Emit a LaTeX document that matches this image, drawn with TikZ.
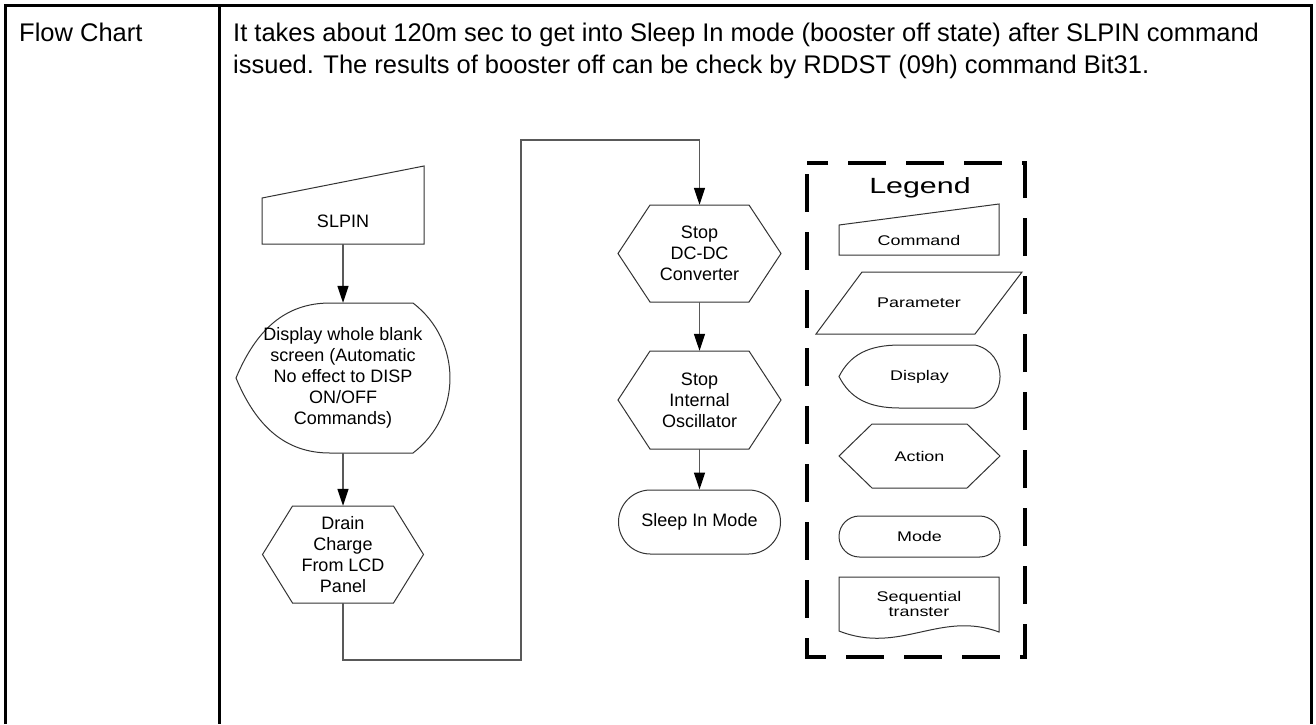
\documentclass[tikz,border=0pt]{standalone}
\usepackage{fontspec}
\setmainfont{Liberation Sans}
\newfontfamily\legfont[FakeStretch=1.28]{Liberation Sans}
\newfontfamily\legtitlefont[FakeStretch=1.38]{Liberation Sans}
\usetikzlibrary{arrows.meta,calc}
\begin{document}
\begin{tikzpicture}[x=1pt,y=-1pt,
  shapeline/.style={draw=black!80, line width=1pt},
  conn/.style={draw=black!65, line width=1.4pt},
  arr/.style={conn, -{Triangle[length=17pt,width=11pt,color=black]}},
  fbox/.style={draw=none, inner sep=0pt, align=center, font=\fontsize{18}{21}\selectfont},
  lbox/.style={draw=none, inner sep=0pt, align=center, font=\legfont\fontsize{14}{14.3}\selectfont},
  maintext/.style={anchor=base west, inner sep=0pt, font=\fontsize{25.5}{32}\selectfont},
  tableline/.style={line width=3pt, line join=miter}
]
\useasboundingbox (0,0) rectangle (1316,724);
% table
\draw[tableline] (5,724) -- (5,5) -- (1311,5) -- (1311,724);
\draw[tableline] (219,5) -- (219,724);
\node[maintext] (lbl) at (19,41) {Flow Chart};
\node[maintext] (desc1) at (233,41) {It takes about 120m sec to get into Sleep In mode (booster off state) after SLPIN command};
\node[maintext] (desc2) at (233,73) {issued. The results of booster off can be check by RDDST (09h) command Bit31.};

% SLPIN command
\draw[shapeline] (262,198) -- (424,166) -- (424,244) -- (262,244) -- cycle;
\node[fbox, minimum width=162pt, minimum height=46pt] (slpin) at (343,221) {SLPIN};

% Display
\draw[shapeline] (236,378) .. controls (256,330) and (285,303) .. (330,303) -- (413,303)
  .. controls (462.3,340.8) and (462.3,415.2) .. (413,453) -- (330,453)
  .. controls (285,453) and (256,426) .. cycle;
\node[fbox, minimum width=214pt, minimum height=150pt] (disp) at (343,378)
  {Display whole blank\\screen (Automatic\\No effect to DISP\\ON/OFF\\Commands)};

% Drain
\draw[shapeline] (262.5,554.5) -- (292.5,506) -- (393.5,506) -- (423.5,554.5) -- (393.5,603) -- (292.5,603) -- cycle;
\node[fbox, minimum width=161pt, minimum height=97pt] (drain) at (343,554.5)
  {Drain\\Charge\\From LCD\\Panel};

% Stop DC-DC
\draw[shapeline] (618,253.5) -- (650,205) -- (749,205) -- (781,253.5) -- (749,302) -- (650,302) -- cycle;
\node[fbox, minimum width=163pt, minimum height=97pt] (stop1) at (699.5,253.5)
  {Stop\\DC-DC\\Converter};

% Stop Internal Oscillator
\draw[shapeline] (618,400) -- (650,351) -- (749,351) -- (781,400) -- (749,449) -- (650,449) -- cycle;
\node[fbox, minimum width=163pt, minimum height=98pt] (stop2) at (699.5,400)
  {Stop\\Internal\\Oscillator};

% Sleep In Mode
\node[fbox, shapeline, rounded corners=31.9pt, minimum width=162pt, minimum height=64pt] (sleep) at (699.5,522) {Sleep In Mode};

% connectors
\coordinate (c1) at (521,660);
\coordinate (c2) at (521,140);
\draw[arr] (slpin.south) -- (disp.north);
\draw[arr] (disp.south) -- (drain.north);
\draw[arr] (drain.south) |- (c1) -- (c2) -| (stop1.north);
\draw[arr] (stop1.south) -- (stop2.north);
\draw[arr] (stop2.south) -- (sleep.north);

% Legend
\draw[line width=4pt, dash pattern=on 38pt off 20pt, dash phase=47pt]
  (807,163) -- (807,657) -- (1025,657) -- (1025,163) -- cycle;
\node[draw=none, inner sep=0pt, font=\legtitlefont\fontsize{22}{24}\selectfont] (ltitle) at (920,188) {Legend};

\draw[shapeline] (839,225) -- (999,204) -- (999,255) -- (839,255) -- cycle;
\node[lbox, minimum width=160pt, minimum height=30pt] (lcmd) at (919,240) {Command};

\draw[shapeline] (862,272) -- (1022,272) -- (975,334) -- (816,334) -- cycle;
\node[lbox, minimum width=206pt, minimum height=62pt] (lpar) at (919,303) {Parameter};

\draw[shapeline] (839,376.5) .. controls (850,355) and (868,345) .. (900,345) -- (975,345)
  .. controls (1008.4,352.7) and (1008.4,400.3) .. (975,408) -- (900,408)
  .. controls (868,408) and (850,398) .. cycle;
\node[lbox, minimum width=161pt, minimum height=63pt] (ldisp) at (919.5,376.5) {Display};

\draw[shapeline] (839,456) -- (872,424) -- (967,424) -- (1000,456) -- (967,488) -- (872,488) -- cycle;
\node[lbox, minimum width=161pt, minimum height=64pt] (lact) at (919.5,456) {Action};

\node[lbox, shapeline, rounded corners=20.4pt, minimum width=161pt, minimum height=41pt] (lmode) at (919.5,536.5) {Mode};

\draw[shapeline] (839,577) -- (999,577) -- (999,632) .. controls (940,610) and (900,655) .. (839,631) -- cycle;
\node[lbox] (lseq) at (919,604) {Sequential\\transter};
\end{tikzpicture}
\end{document}
